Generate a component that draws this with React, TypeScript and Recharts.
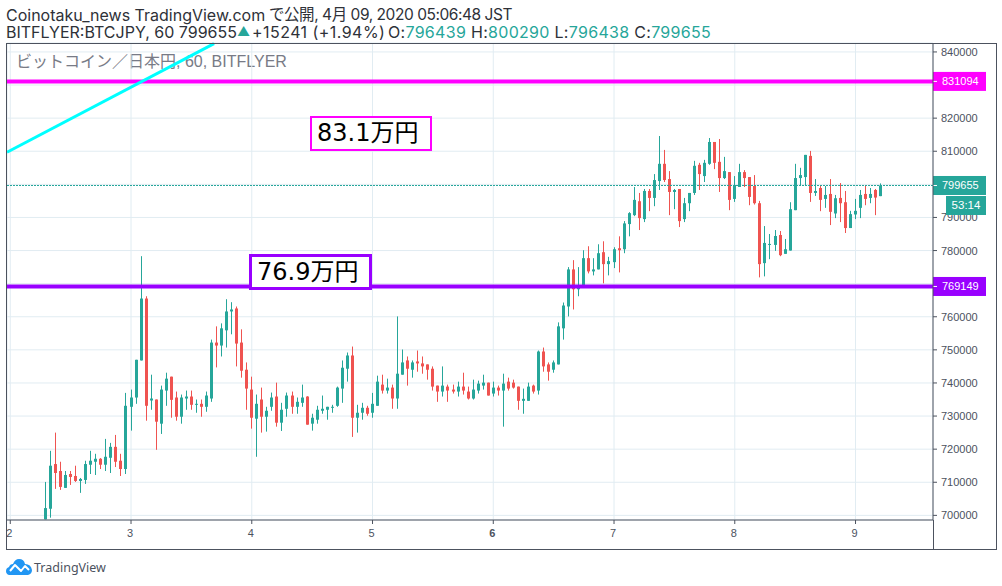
import React from 'react';
import { ComposedChart, Bar, XAxis, YAxis, CartesianGrid, ReferenceLine } from 'recharts';

// Hourly BTC/JPY candles, in thousand yen. First candle sits at hour 7 of the axis.
const firstHour = 7;
const opensK = [698.8,702,715.5,713.4,708.3,712.5,711.9,710.4,710.7,715.3,716.2,717.1,715.3,717.4,720.7,716.5,714,732.8,735.6,746.8,765.5,734.7,735,727.7,737.7,741.9,735.6,729.8,735.3,735.9,733.4,733.7,732.8,735.3,752.2,751.3,755.9,761.6,762.5,752.2,744,738,729.2,735,729.8,732.8,735.9,728,732.2,736.2,732.8,734,735.9,727.7,728.9,731.6,731.9,732.5,733.1,738.3,744.3,748.3,729.5,731,732.5,731,733.1,739.5,737.7,738.6,735.3,742.5,746.8,744,746.5,745.9,745.6,744.3,739.2,737.4,738.9,738,737.4,738.9,737.4,735.3,737.7,739.2,740.1,736.8,738.6,737.7,740.4,740.1,738.9,734.6,734.6,739.2,737.7,749.5,745.6,744,745.6,756.5,763.1,774.3,768.3,769.2,777.7,773.7,774.3,779.5,775.9,776.5,780.7,780.4,788,790.7,794.9,789.5,798,795.9,801,806.2,801.6,797.7,798.6,789.5,794.3,797.4,805.9,802.5,806.2,812.8,806.8,801.9,803.7,795.6,799.2,803.7,802.2,799.5,794.3,776.2,781.7,781.7,784.7,779,780,792.2,801.9,802.2,808.6,797.4,798.9,795.6,797.1,791.2,795.9,794.6,786.8,790.9,792.9,797.1,795.9,798.3,796.44];
const highsK = [710.1,719.5,725,716.2,713.4,713.4,715,711.3,716.5,719.5,718.6,717.3,723.1,721.9,724.3,718.6,737,738,747,778.3,766.2,742.5,735,739.2,743.1,741.9,737.4,736.5,737.7,737.7,735,735,737.4,753.1,757.1,758,765.3,764.4,763.1,756.2,746.2,741.9,736.5,738.6,732.8,737.1,740.1,734,737.1,737.4,735.6,739.5,736,730.7,733.1,736.2,732.8,733.4,738.9,746.8,749.2,751,733.4,734,733.1,737,742.2,742.5,741.3,739.5,760.1,750.1,748,746.8,749.8,748,745.6,745,739.2,745,739.5,739.5,740.4,743.1,738.9,741,740.7,742.5,740.1,740.4,739.2,742.8,741.6,741,738.9,738.3,740.1,739.5,749.8,750.7,746.2,746.8,758.3,764.3,775,777.1,775,780.1,781.3,777.7,781.9,782.8,778.1,781,784.3,788.9,791.6,799.2,797.4,798.6,798.6,803.1,814.6,810.4,804,798.6,798.6,795.9,797.4,807.1,806.5,807.4,814,812.8,813.7,808.3,803.7,802.5,806.2,804.3,802.2,802.8,795,787.4,785,786.2,785.9,783.5,794.6,806.2,805,808.9,810.1,801.6,799.5,799.5,801.6,796.8,800.4,798,792,795.6,798.3,799.8,798.9,798.6,800.29];
const lowsK = [698.8,699.3,708,707.7,708.3,709.2,710.1,706.8,709.5,712.5,712.2,714,713.4,712.8,714.6,711.9,712.5,725.6,733.7,746.8,728.6,731.9,719.8,724.6,733.1,729.5,728.6,727.7,731.9,731.9,731,729.8,731.3,734.3,744.7,748,750.7,754.7,745,741.6,731.9,726.2,717.7,725,725.3,731.6,726.8,725.5,729.8,730.7,730.7,732.8,727.4,725.6,727.7,730.7,728.9,731,732.8,734,740.4,723.7,725,728.9,730.1,729.5,733.1,736.8,736.8,732.2,732.2,742.5,739.2,741.6,743.4,742.8,741,737.7,734.3,735.9,734.3,736.8,735.9,736.5,735,735,736.8,738,736.2,735.9,736.2,726.8,737.7,738.3,731.9,730.7,734.6,736.8,736.5,743.4,740.7,743.1,745.6,753.1,760.1,762.2,766.2,768.9,773.1,772.5,774.3,770.1,772.5,774.7,773.4,779.2,784.3,790.4,786.2,788.6,791.9,793.4,798.3,800.7,790.7,792.5,787.1,788.6,791.9,796.8,798.3,800.7,805.9,804.6,797.7,801.6,792.2,794.7,799.2,799.2,793.7,793.9,771.9,772.2,777.4,779.9,778.3,779,780,792.2,799.5,799.5,794.7,796.5,791.9,792.9,787.7,789.8,788.6,785.3,786.8,789.5,789.8,793.7,794.3,790.7,796.44];
const closesK = [702.2,715,712.8,708.6,712.2,711.6,710.4,711,715.5,716.5,717.1,715.3,717.7,720.7,716.2,714,733.1,735.6,747,765.5,733.1,735.3,728.3,738,741.3,734.9,729.8,735.6,735.9,733.4,733.7,732.8,736.2,752.2,751.3,756.5,761.6,762.2,751.9,743.7,738.3,729.5,733.7,729.8,731.6,735.6,728,731.9,736.2,732.8,734.3,735.6,727.4,729.5,731.9,732.2,732.8,732.8,738.6,744.6,748.3,729.5,731,732.5,730.7,733.7,740.4,737.7,738.6,735.3,742.8,746.2,744.3,746.2,745.9,745,744,738.9,737.4,739.2,737.7,737.4,738.9,737.7,735.3,738,739.8,740.1,736.2,738.6,737.7,739.8,738.3,738.6,734.6,735.2,738.9,737.4,749.5,745,743.4,746.2,757.1,763.4,774.3,768.3,769.5,777.7,773.7,774.3,779.2,775.9,776.8,780.4,780.1,788.2,791.3,795.3,789.8,798,795.9,801.3,806.2,801.3,797.7,798.3,788.9,794.3,797.4,805.6,803.1,806.5,812.8,806.5,801.9,804,795.3,799.8,803.7,801.9,796.2,794.3,775.9,782.3,782,784.4,778.6,780.4,792.5,801.9,802.8,808.9,797.4,798,795.3,796.8,791.7,795.8,794.3,786.8,791,792,796.8,795.6,797.1,796,799.66];

const dayTicks = [0, 24, 48, 72, 96, 120, 144, 168];
const dayLabels = ['2', '3', '4', '5', '6', '7', '8', '9'];
const priceTicks = [700000, 710000, 720000, 730000, 740000, 750000, 760000, 770000, 780000, 790000, 800000, 810000, 820000, 830000, 840000];
const ticksUnderTags = [770000, 800000, 830000];
const resistance = 831094;
const support = 769149;
const lastPrice = 799655;
const countdown = '53:14';
const trendFrom = { x: -0.65, y: 809700 };
const trendTo = { x: 40.5, y: 842500 };

const UP = '#26a69a';
const DOWN = '#ef5350';
const MAGENTA = '#ff00ff';
const PURPLE = '#9900ff';
const AXIS = '#4c525e';
const FONT = '"Liberation Sans", "Noto Sans CJK JP", sans-serif';
const HEAD_FONT = 'Inter, "Noto Sans CJK JP", sans-serif';

const candles = closesK.map((c, i) => ({
  hour: firstHour + i,
  open: opensK[i] * 1000,
  high: highsK[i] * 1000,
  low: lowsK[i] * 1000,
  close: c * 1000,
  range: [lowsK[i] * 1000, highsK[i] * 1000],
}));

function Candle(props: any) {
  const { x, y, width, height, payload } = props;
  const { open, high, low, close } = payload;
  const at = (v: number) => y + ((high - v) / (high - low)) * height;
  const c = Math.round(x + width / 2 - 0.5);
  const top = at(Math.max(open, close));
  const bot = at(Math.min(open, close));
  const color = close >= open ? UP : DOWN;
  return (
    <g>
      <rect x={c} y={y} width={1} height={height} fill={color} />
      <rect x={c - 1} y={top} width={3} height={Math.max(bot - top, 1)} fill={color} />
    </g>
  );
}

function priceTag(text: string, fill: string) {
  return (p: any) => {
    const vb = p.viewBox;
    const left = vb.x + vb.width;
    const cy = vb.y + (vb.height || 0) / 2;
    return (
      <g style={{ fontFamily: FONT }}>
        <rect x={left} y={cy - 9.5} width={53} height={19} fill={fill} />
        <line x1={left} x2={left + 4} y1={cy} y2={cy} stroke="#fff" />
        <text x={left + 9} y={cy + 4} fontSize={11} fill="#fff">{text}</text>
      </g>
    );
  };
}

function DayTick(props: any) {
  const { x, y, payload } = props;
  const label = dayLabels[dayTicks.indexOf(payload.value)];
  return (
    <text x={x - 1} y={y + 11} textAnchor="middle" fontSize={11} fontFamily={FONT} fill={AXIS} fontWeight={label === '6' ? 700 : 400}>
      {label}
    </text>
  );
}

function PriceTick(props: any) {
  const { x, y, payload } = props;
  if (ticksUnderTags.includes(payload.value)) return null;
  return (
    <g>
      <line x1={x - 8} x2={x - 4} y1={y} y2={y} stroke={AXIS} />
      <text x={x} y={y + 4} fontSize={11} fontFamily={FONT} fill={AXIS}>{payload.value}</text>
    </g>
  );
}

const abs = (o: React.CSSProperties): React.CSSProperties => ({ position: 'absolute', whiteSpace: 'pre', fontFamily: HEAD_FONT, ...o });
const Val = ({ children }: { children: React.ReactNode }) => <span style={{ color: UP }}>{children}</span>;
const HEAD = '#2e3138';

export default function App() {
  return (
    <div style={{ position: 'absolute', left: 0, top: 0, width: 1002, height: 586, background: '#fff', overflow: 'hidden' }}>
      <div style={abs({ left: 6, top: 6, fontSize: 16, lineHeight: '18px', color: HEAD })}>Coinotaku_news TradingView.com</div>
      <div style={abs({ left: 269, top: 6, fontSize: 15.5, lineHeight: '18px', color: HEAD, letterSpacing: -0.45 })}>で公開, 4月 09, 2020 05:06:48 JST</div>

      <div style={abs({ left: 6, top: 23, fontSize: 16, lineHeight: '18px', color: HEAD })}>BITFLYER:BTCJPY, 60 799655</div>
      <div style={abs({ left: 237, top: 23, fontSize: 13, lineHeight: '16px', color: UP })}>▲</div>
      <div style={abs({ left: 252, top: 23, fontSize: 16, lineHeight: '18px', color: HEAD, letterSpacing: 0.45 })}>+15241 (+1.94%)</div>
      <div style={abs({ left: 388, top: 23, fontSize: 16, lineHeight: '18px', color: HEAD, letterSpacing: 0.3 })}>
        O:<Val>796439</Val> H:<Val>800290</Val> L:<Val>796438</Val> C:<Val>799655</Val>
      </div>

      <div style={abs({ left: 16, top: 52, fontSize: 16, lineHeight: '20px', color: '#787b86', fontFamily: FONT })}>
        ビットコイン／日本円, 60, BITFLYER
      </div>

      <div style={{ position: 'absolute', left: 0, top: 0 }}>
        <ComposedChart width={1002} height={586} data={candles} margin={{ top: 43, right: 7, bottom: 37, left: 7 }}>
          <CartesianGrid stroke="#e1ecf2" strokeWidth={1} />
          <XAxis
            dataKey="hour"
            type="number"
            domain={[-0.65, 183.4]}
            ticks={dayTicks}
            allowDataOverflow
            height={29}
            tick={<DayTick />}
            tickSize={4}
            stroke={AXIS}
            interval={0}
          />
          <YAxis
            orientation="right"
            width={62}
            domain={[698600, 842700]}
            ticks={priceTicks}
            allowDataOverflow
            interval={0}
            tickLine={false}
            tickSize={4}
            tickMargin={4}
            stroke={AXIS}
            tick={<PriceTick />}
          />
          <ReferenceLine y={lastPrice} stroke={UP} strokeDasharray="2 1" label={priceTag(String(lastPrice), UP)} />
          <Bar dataKey="range" barSize={3} shape={<Candle />} isAnimationActive={false} />
          <ReferenceLine y={resistance} stroke={MAGENTA} strokeWidth={4} label={priceTag(String(resistance), MAGENTA)} />
          <ReferenceLine y={support} stroke={PURPLE} strokeWidth={4} label={priceTag(String(support), PURPLE)} />
          <ReferenceLine segment={[trendFrom, trendTo]} stroke="#00ffff" strokeWidth={3} />
        </ComposedChart>
      </div>

      <div style={abs({ left: 946, top: 196, width: 40, height: 19, background: UP, color: '#fff', fontFamily: FONT, fontSize: 11.5, lineHeight: '19px', textAlign: 'center' })}>{countdown}</div>

      <div style={abs({ left: 310, top: 116, width: 118, height: 31, border: `2px solid ${MAGENTA}`, fontFamily: '"DejaVu Sans", "Noto Sans CJK JP"', fontSize: 24, lineHeight: '31px', textIndent: 5, color: '#000', background: '#fff' })}>83.1万円</div>
      <div style={abs({ left: 249, top: 254, width: 117, height: 30, border: `3px solid ${PURPLE}`, fontFamily: '"DejaVu Sans", "Noto Sans CJK JP"', fontSize: 24, lineHeight: '30px', textIndent: 5, color: '#000', background: '#fff' })}>76.9万円</div>

      <div style={{ position: 'absolute', left: 6, top: 43, width: 989, height: 505, border: `1px solid ${AXIS}`, pointerEvents: 'none' }} />
      <div style={{ position: 'absolute', left: 933, top: 520, width: 1, height: 29, background: AXIS }} />

      <svg style={{ position: 'absolute', left: 6, top: 559 }} width={26} height={16} viewBox="0 0 26 16">
        <path d="M3 16 Q0 15 0 12 Q0 9 3 8 Q4 5 7 5 Q9 0 13 0 Q18 0 19 5 Q25 5 26 11 Q26 15 22 16 Z" fill="#2196f3" />
        <path d="M4 12 L9 6 L15 12 L19 7 L23 11" fill="none" stroke="#fff" strokeWidth={2} strokeLinejoin="round" />
      </svg>
      <div style={abs({ left: 34, top: 560, fontSize: 12.5, lineHeight: '15px', color: AXIS, fontFamily: '"Noto Sans", sans-serif' })}>TradingView</div>
    </div>
  );
}
